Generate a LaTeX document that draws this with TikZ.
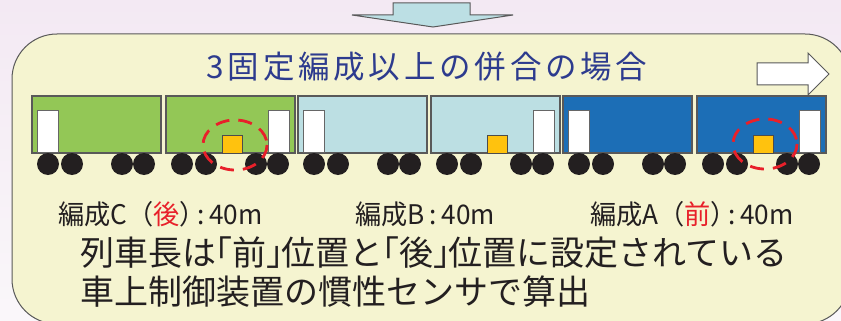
\documentclass[tikz,border=0pt]{standalone}
\usepackage{fontspec}
\newfontfamily\jp{Noto Sans CJK JP}
\newfontfamily\jptitle[LetterSpace=12]{Noto Sans CJK JP}
\definecolor{pagebg}{HTML}{F3E9F3}
\definecolor{pagebgb}{HTML}{FAF7FA}
\definecolor{panel}{HTML}{F5F4D0}
\definecolor{arrowblue}{HTML}{BCDFE4}
\definecolor{titleblue}{HTML}{2D3B8E}
\definecolor{cargreen}{HTML}{93C756}
\definecolor{carlight}{HTML}{BCDFE3}
\definecolor{carblue}{HTML}{1C6EB6}
\definecolor{sensor}{HTML}{FFC20E}
\definecolor{markred}{HTML}{E8202A}
\definecolor{ink}{HTML}{231F20}
% slightly condensed label text
\newcommand{\narrow}[1]{\scalebox{0.97}[1]{#1}}
\tikzset{
  outline/.style={draw=black!65, line width=1pt},
  carbody/.style={outline, line width=1.2pt},
  door/.style={fill=white, draw=black!60, line width=1pt},
  sensorbox/.style={fill=sensor, draw=black!70, line width=1pt},
  wheel/.style={fill=ink},
  sensorring/.style={draw=markred, line width=2.8pt, dash pattern=on 14pt off 9pt},
  label/.style={inner sep=0pt, anchor=west, text=ink, font=\jp\fontsize{27}{31}\selectfont},
  body/.style={inner sep=0pt, anchor=west, text=ink, font=\jp\fontsize{34}{40}\selectfont},
}
\begin{document}
\begin{tikzpicture}[x=1pt,y=-1pt]
\useasboundingbox (0,0) rectangle (841,321);
% page background
\shade[top color=pagebg, bottom color=pagebgb] (0,0) rectangle (841,321);
% incoming arrow from above
\draw[outline, fill=arrowblue] (393,3) -- (393,15) -- (352,15) -- (433,27)
  -- (513,15) -- (470,15) -- (470,3) -- cycle;
% panel
\draw[outline, fill=panel, rounded corners=45pt] (12,34) rectangle (850,324);
% travel direction
\draw[outline, fill=white] (757,63) -- (808,63) -- (808,53) -- (829,74)
  -- (808,95) -- (808,85) -- (757,85) -- cycle;
% title
\node[inner sep=0pt, text=titleblue, font=\jptitle\fontsize{31.5}{36}\selectfont]
  (title) at (427,67) {3固定編成以上の併合の場合};
% cars: composition C (green), B (light blue), A (blue)
\foreach \c/\col in {32/cargreen,166/cargreen,298/carlight,431/carlight,563/carblue,697/carblue}
  \draw[carbody, fill=\col] (\c,96) rectangle (\c+129,153);
% doors at the coupled ends
\foreach \c in {32,298,563}
  \draw[door] (\c+5,110) rectangle (\c+26,152);
\foreach \c in {166,431,697}
  \draw[door] (\c+102,110) rectangle (\c+123,152);
% inertial sensors
\foreach \c in {166,431,697}
  \draw[sensorbox] (\c+56,135) rectangle (\c+76,153);
% wheels
\foreach \c in {32,166,298,431,563,697}
  \foreach \d in {16,40,90,112}
    \fill[wheel] (\c+\d,164) circle[radius=11];
% highlighted sensors
\draw[sensorring] (235,145) ellipse[x radius=32, y radius=25];
\draw[sensorring] (765,144) ellipse[x radius=32, y radius=25];
% composition labels
\node[label] (labC) at (58,214) {\narrow{編成C（\textcolor{markred}{後}）\kern-9pt:\kern5pt40m}};
\node[label] (labB) at (355,214) {\narrow{編成B\kern5pt:\kern5pt40m}};
\node[label] (labA) at (590,214) {\narrow{編成A（\textcolor{markred}{前}）\kern-9pt:\kern5pt40m}};
% explanation
\node[body] (line1) at (80,253)
  {列車長は\kern-1pt｢前｣\kern-2pt位置と\kern-1pt｢後｣\kern-2pt位置に設定されている};
\node[body] (line2) at (80,292) {車上制御装置の慣性センサで算出};
\end{tikzpicture}
\end{document}
